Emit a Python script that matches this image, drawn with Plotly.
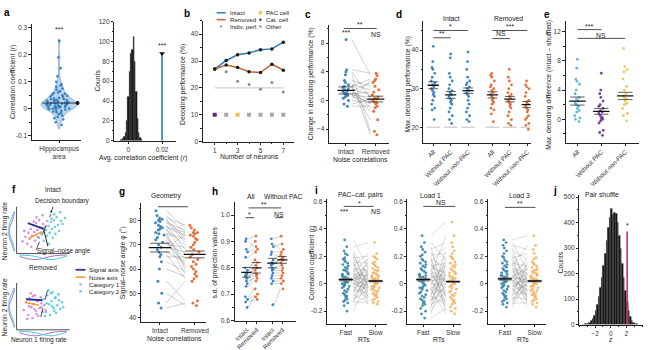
import plotly.graph_objects as go

W, H = 650, 350
FONT = "Liberation Sans, Arial, sans-serif"
INK = "#222222"
BLUE = "#2b7bba"
ORANGE = "#e2632b"
BROWN = "#c0653a"
CYAN = "#4bb3d8"
PURPLE = "#6a2c8c"
YELLOW = "#f1bf48"
TEAL = "#2a7fa5"
PEACH = "#f3b061"
PINK = "#d97fcf"
SKY = "#52c6e6"
NAVY = "#2a3590"
NOISE = "#f0a03c"
RED = "#cf2f6a"
GRAYLINE = "rgba(110,110,110,0.55)"

# ---------------- data ----------------
# a
a_corr = [0.25, 0.19, 0.15, 0.12, 0.10, 0.09, 0.085, 0.08, 0.075, 0.07, 0.065, 0.06, 0.058, 0.055,
          0.052, 0.05, 0.048, 0.045, 0.043, 0.04, 0.038, 0.036, 0.035, 0.033, 0.032, 0.03, 0.029,
          0.028, 0.027, 0.026, 0.025, 0.024, 0.023, 0.022, 0.021, 0.02, 0.019, 0.018, 0.017, 0.016,
          0.015, 0.014, 0.013, 0.012, 0.011, 0.01, 0.009, 0.008, 0.007, 0.006, 0.005, 0.004, 0.003,
          0.002, 0.001, 0.0, -0.002, -0.004, -0.006, -0.008, -0.01, -0.013, -0.016, -0.02, -0.025,
          -0.03, -0.035, -0.04, -0.05, -0.06]
a_corr_mean = 0.021
a_hist_bins = [-0.0040, -0.0032, -0.0024, -0.0016, -0.0008, 0.0, 0.0008, 0.0016, 0.0024, 0.0032,
               0.0040, 0.0048, 0.0056, 0.0064, 0.0072, 0.0080]
a_hist_counts = [1, 2, 4, 8, 20, 45, 70, 88, 92, 105, 80, 50, 22, 8, 3, 1]
a_observed_r = 0.02
a_observed_count = 86

# b
b_neurons = [1, 2, 3, 4, 5, 6, 7]
b_intact = [27, 30.2, 32.3, 33, 34.2, 34.5, 37]
b_removed = [27, 28.5, 27.6, 26, 25.7, 28.8, 26.6]
b_indiv_n = [2, 3, 4, 5, 6, 7]
b_indiv = [26, 22.5, 21.3, 19.5, 22, 18.5]
b_chance = 20
b_cell_level = 10
b_cell_type = ["Cat. cell", "Other", "PAC cell", "Other", "Other", "Other", "Other"]

# c
c_intact = [8.5, 4.3, 4.0, 3.6, 2.8, 2.5, 2.2, 2.0, 1.8, 1.6, 1.5, 1.3, 1.2, 1.0, 0.9, 0.8, 0.7,
            0.5, 0.3, 0.0, -0.5, -0.8]
c_removed = [3.5, 3.8, 0.3, -4.3, 2.0, -4.8, 1.5, 3.0, -2.7, 0.8, -1.0, 2.5, 0.0, -0.5, 1.2, -1.5,
             0.5, -0.2, 2.8, -0.3, 0.2, -0.8]
c_means = [1.4, 0.2]
c_sems = [0.5, 0.4]

# d
d_int_all = [41, 37, 35.5, 35, 34, 33, 32, 31.5, 31, 30.5, 30, 29.5, 29, 28.5, 28, 27, 26, 25, 24.5, 22]
d_int_nopac = [39, 38, 34, 33, 32, 31, 30, 29.5, 29, 28.5, 28, 27.5, 27, 26.5, 26, 25, 24, 23, 22, 21]
d_int_nonpac = [39.5, 37, 35, 33, 32, 31.5, 31, 30.5, 30, 29.5, 29, 28.5, 28, 27, 26, 25, 24, 23, 22, 21.5]
d_rem_all = [34, 33.5, 33, 32, 31, 30.5, 30, 29.5, 29, 28.5, 28, 27.5, 27, 26.5, 26, 25, 24.5, 23.5, 21.5]
d_rem_nopac = [35, 33, 32, 31, 30, 29, 28.5, 28, 27.5, 27, 26.5, 26, 25.5, 25, 24, 23, 22, 21, 20.5]
d_rem_nonpac = [32, 31, 30.5, 30, 29, 28, 27, 26.5, 26, 25.5, 25, 24.5, 24, 23, 22.5, 22, 21, 20.5, 19.5]
d_means = [30.9, 28.4, 29.5, 28.4, 27.3, 25.9]
d_sems = [0.9, 0.9, 0.7, 0.8, 0.7, 0.8]
d_labels = ["All", "Without PAC", "Without non-PAC", "All", "Without PAC", "Without non-PAC"]
d_chance = 20

# e
e_all = [8.2, 7.0, 5.5, 5.2, 4.8, 4.0, 3.5, 3.0, 2.8, 2.5, 2.2, 2.0, 1.8, 1.5, 1.2, 1.0, 0.5, 0.2, 0.0, -0.3]
e_nopac = [6.3, 4.0, 3.5, 3.0, 2.5, 2.0, 1.8, 1.5, 1.2, 1.0, 0.8, 0.5, 0.3, 0.1, 0.0, -0.2, -0.5, -1.5, -1.8, -2.2]
e_nonpac = [9.7, 7.2, 6.8, 6.5, 5.5, 4.5, 4.0, 3.5, 3.2, 3.0, 2.8, 2.5, 2.2, 2.0, 1.5, 0.8, 0.5, -0.2]
e_means = [2.5, 1.1, 3.2]
e_sems = [0.55, 0.4, 0.5]
e_labels = ["All", "Without PAC", "Without non-PAC"]

# f (schematic firing rates, arbitrary units)
f_int_c1_x = [1.0, 1.5, 1.8, 2.0, 2.2, 2.4, 2.6, 2.8, 3.0, 3.1, 3.3, 3.5, 3.6, 3.8, 4.0, 4.2, 4.5, 4.8, 1.3, 2.5, 3.4, 2.9, 4.4, 5.2]
f_int_c1_y = [2.5, 3.4, 2.0, 4.2, 3.0, 5.0, 3.6, 5.8, 4.4, 2.6, 6.2, 4.8, 3.4, 6.8, 5.2, 4.0, 6.0, 5.4, 4.6, 1.4, 7.4, 6.5, 7.8, 6.6]
f_int_c2_x = [3.8, 4.3, 4.6, 5.0, 5.2, 5.4, 5.6, 5.8, 6.0, 6.1, 6.3, 6.5, 6.6, 6.8, 7.0, 7.2, 7.5, 7.8, 4.4, 5.5, 6.4, 5.9, 7.4, 8.2]
f_int_c2_y = [3.2, 4.0, 2.6, 4.8, 3.6, 5.6, 4.2, 6.4, 5.0, 3.2, 6.8, 5.4, 4.0, 7.4, 5.8, 4.6, 6.6, 6.0, 5.2, 2.0, 8.0, 7.1, 8.4, 7.2]
f_rem_c1_x = [1.2, 1.6, 2.0, 2.2, 2.5, 2.7, 2.9, 3.1, 3.3, 3.5, 3.7, 3.9, 4.1, 4.4, 4.7, 1.8, 2.4, 3.0, 3.6, 4.2, 2.1, 3.4, 2.8, 4.9]
f_rem_c1_y = [4.0, 5.6, 3.0, 6.4, 4.6, 2.4, 5.2, 7.0, 3.8, 5.8, 2.8, 4.4, 6.6, 3.6, 5.0, 2.2, 7.4, 4.2, 6.0, 5.4, 4.8, 3.2, 6.8, 4.0]
f_rem_c2_x = [4.2, 4.6, 5.0, 5.2, 5.5, 5.7, 5.9, 6.1, 6.3, 6.5, 6.7, 6.9, 7.1, 7.4, 7.7, 4.8, 5.4, 6.0, 6.6, 7.2, 5.1, 6.4, 5.8, 7.9]
f_rem_c2_y = [4.6, 6.2, 3.6, 7.0, 5.2, 3.0, 5.8, 7.6, 4.4, 6.4, 3.4, 5.0, 7.2, 4.2, 5.6, 2.8, 8.0, 4.8, 6.6, 6.0, 5.4, 3.8, 7.4, 4.6]
f_marg_pos = [0.5, 1.5, 2.5, 3.5, 4.5, 5.5, 6.5, 7.5, 8.5]
f_marg_c1_y = [0.1, 0.35, 0.7, 0.95, 1.0, 0.8, 0.45, 0.2, 0.05]
f_marg_c2_y = [0.05, 0.2, 0.45, 0.75, 0.95, 1.0, 0.8, 0.45, 0.15]
f_marg_c1_x = [0.3, 0.7, 0.95, 1.0, 0.75, 0.4, 0.15, 0.05, 0.02]
f_marg_c2_x = [0.02, 0.05, 0.15, 0.4, 0.75, 1.0, 0.95, 0.6, 0.25]
f_int_signal = ([1.9, 4.6], [6.2, 5.0])
f_int_noise = ([2.1, 4.4], [3.1, 4.5])
f_int_boundary = ([3.3, 5.8], [0.7, 8.0])
f_int_angle = ([4.6, 5.3], [4.9, 1.5])
f_rem_signal = ([1.6, 4.4], [6.2, 6.0])
f_rem_noise = ([1.4, 3.8], [5.6, 5.0])
f_rem_boundary = ([4.1, 5.4], [2.6, 8.8])

# g
g_intact = [84, 82, 81, 80.5, 80, 79.5, 79, 78, 77.5, 77, 76.5, 76, 75, 74.5, 74, 73, 72, 71, 70, 69,
            68, 67, 66, 65, 63, 60, 55, 50, 46, 44]
g_removed = [77, 75, 78, 72, 73.5, 71, 76, 68, 75, 74, 66, 70, 61, 72.5, 60, 64, 58, 62, 69, 67, 74.5,
             63, 56, 65, 59, 57, 47, 45, 55, 46]
g_means = [68.8, 66.0]
g_sems = [1.8, 1.4]

# h
h_int_all = [0.91, 0.90, 0.87, 0.86, 0.84, 0.80, 0.79, 0.78, 0.775, 0.77, 0.765, 0.76, 0.75, 0.74, 0.73, 0.69, 0.68, 0.67, 0.65]
h_rem_all = [0.92, 0.88, 0.90, 0.87, 0.86, 0.82, 0.83, 0.79, 0.81, 0.78, 0.80, 0.775, 0.76, 0.77, 0.75, 0.72, 0.70, 0.68, 0.69]
h_int_nopac = [0.91, 0.89, 0.88, 0.86, 0.85, 0.83, 0.82, 0.815, 0.81, 0.80, 0.795, 0.79, 0.78, 0.77, 0.76, 0.75, 0.74, 0.66]
h_rem_nopac = [0.92, 0.87, 0.89, 0.86, 0.84, 0.85, 0.83, 0.82, 0.835, 0.81, 0.80, 0.79, 0.78, 0.77, 0.76, 0.75, 0.74, 0.72]
h_means = [0.783, 0.800, 0.818, 0.830]
h_sems = [0.018, 0.02, 0.018, 0.013]
h_labels = ["Intact", "Removed", "Intact", "Removed"]

# i
i1_fast = [0.32, 0.27, 0.24, 0.21, 0.19, 0.18, 0.17, 0.16, 0.15, 0.14, 0.13, 0.12, 0.11, 0.10, 0.10, 0.09,
           0.08, 0.07, 0.07, 0.06, 0.05, 0.05, 0.04, 0.04, 0.03, 0.03, 0.02, 0.02, 0.01, 0.01, 0.00, 0.00,
           -0.01, -0.02, -0.02, -0.03, -0.04, -0.05, -0.06, -0.07, -0.08, -0.09, -0.10, -0.11, -0.12,
           -0.13, -0.14, -0.16, -0.20, 0.22]
i1_slow = [0.12, 0.30, 0.05, -0.02, 0.20, 0.08, -0.10, 0.15, 0.02, -0.05, 0.22, 0.00, 0.10, -0.08, 0.04,
           0.18, -0.12, 0.06, 0.01, -0.03, 0.14, -0.15, 0.09, 0.03, -0.06, 0.11, -0.01, 0.07, -0.09, 0.16,
           0.02, -0.04, 0.13, -0.11, 0.05, 0.00, -0.07, 0.08, -0.02, 0.19, -0.13, 0.03, 0.06, -0.05, 0.01,
           -0.14, 0.10, -0.08, 0.04, -0.03]
i2_fast = [0.35, 0.30, 0.27, 0.25, 0.23, 0.21, 0.20, 0.18, 0.17, 0.16, 0.15, 0.13, 0.12, 0.11, 0.10, 0.09,
           0.08, 0.07, 0.06, 0.05, 0.05, 0.04, 0.03, 0.02, 0.02, 0.01, 0.00, -0.01, -0.02, -0.03, -0.04,
           -0.05, -0.06, -0.07, -0.08, -0.09, -0.10, -0.11, -0.12, -0.13, -0.14, -0.15, -0.16, -0.18,
           -0.20, -0.22, -0.25, 0.14, -0.03, 0.06]
i2_slow = [0.45, 0.18, -0.10, 0.30, 0.05, 0.22, -0.20, 0.12, 0.00, 0.27, -0.06, 0.15, 0.08, -0.14, 0.20,
           0.02, -0.09, 0.10, 0.35, -0.03, 0.06, -0.17, 0.13, 0.04, -0.12, 0.09, -0.01, 0.16, -0.07, 0.03,
           -0.22, 0.11, 0.01, -0.04, 0.07, -0.15, 0.24, -0.08, 0.05, -0.02, 0.14, -0.11, 0.00, 0.19, -0.05,
           0.08, -0.18, 0.03, -0.13, 0.02]
i3_fast = [0.32, 0.30, 0.28, 0.26, 0.24, 0.22, 0.20, 0.19, 0.17, 0.16, 0.15, 0.14, 0.13, 0.12, 0.11, 0.10,
           0.09, 0.08, 0.07, 0.06, 0.06, 0.05, 0.04, 0.04, 0.03, 0.02, 0.02, 0.01, 0.00, -0.01, -0.02,
           -0.03, -0.04, -0.05, -0.06, -0.07, -0.08, -0.09, -0.10, -0.11, -0.12, -0.13, -0.14, -0.15,
           -0.17, 0.03, 0.05, 0.01, -0.02, 0.09]
i3_slow = [0.35, 0.10, 0.25, -0.05, 0.18, 0.02, -0.12, 0.22, 0.06, -0.08, 0.13, 0.00, 0.28, -0.15, 0.08,
           0.04, -0.02, 0.16, -0.10, 0.11, 0.01, -0.06, 0.19, 0.03, -0.13, 0.07, -0.04, 0.14, 0.02, -0.09,
           0.05, -0.17, 0.09, -0.01, 0.12, -0.07, 0.00, 0.15, -0.11, 0.03, -0.03, 0.08, -0.14, 0.06, 0.01,
           -0.05, 0.10, -0.08, 0.04, -0.02]
i_means_fast = [0.03, 0.03, 0.035]
i_means_slow = [0.02, 0.015, 0.02]
i_titles = ["PAC–cat. pairs", "Load 1", "Load 3"]
i_rt_labels = ["Fast", "Slow"]

# j
j_bins = [-3.5, -3.3, -3.1, -2.9, -2.7, -2.5, -2.3, -2.1, -1.9, -1.7, -1.5, -1.3, -1.1, -0.9, -0.7, -0.5,
          -0.3, -0.1, 0.1, 0.3, 0.5, 0.7, 0.9, 1.1, 1.3, 1.5, 1.7, 1.9, 2.1, 2.3, 2.5, 2.7, 2.9, 3.1, 3.3, 3.5]
j_counts = [0, 2, 3, 5, 8, 14, 22, 35, 55, 80, 110, 145, 185, 230, 280, 330, 380, 420, 455, 430, 440,
            435, 400, 350, 300, 240, 185, 135, 90, 55, 30, 15, 8, 4, 2, 1]
j_observed_z = 2.1
j_observed_count = 365

# ---------------- helpers ----------------
fig = go.Figure()
layout = {}
annotations = []
shapes = []


def X(px):
    return px / W


def Y(py):
    return 1 - py / H


def xr(n):
    return "x" if n == 1 else f"x{n}"


def yr(n):
    return "y" if n == 1 else f"y{n}"


def axes(n, px0, px1, py0, py1, xrange, yrange, xkw=None, ykw=None):
    base = dict(showline=True, linecolor=INK, linewidth=0.8, ticks="outside", ticklen=2.5,
                tickwidth=0.7, tickcolor=INK, tickfont=dict(size=6.5, color="#333"),
                showgrid=False, zeroline=False, type="linear", fixedrange=True)
    xa = dict(base, domain=[X(px0), X(px1)], range=xrange, anchor=yr(n))
    ya = dict(base, domain=[Y(py1), Y(py0)], range=yrange, anchor=xr(n))
    if xkw:
        xa.update(xkw)
    if ykw:
        ya.update(ykw)
    k = "" if n == 1 else str(n)
    layout["xaxis" + k] = xa
    layout["yaxis" + k] = ya


def txt(px, py, s, size=7, angle=0, xanchor="center", bold=False, color=INK):
    if bold:
        s = f"<b>{s}</b>"
    annotations.append(dict(x=X(px), y=Y(py), xref="paper", yref="paper", text=s, showarrow=False,
                            font=dict(size=size, color=color), xanchor=xanchor, yanchor="middle",
                            textangle=angle))


def dtxt(n, x, y, s, size=7):
    annotations.append(dict(x=x, y=y, xref=xr(n), yref=yr(n), text=s, showarrow=False,
                            font=dict(size=size, color=INK), xanchor="center", yanchor="middle"))


def dline(n, x0, y0, x1, y1, color=INK, width=0.8, dash="solid"):
    shapes.append(dict(type="line", xref=xr(n), yref=yr(n), x0=x0, y0=y0, x1=x1, y1=y1,
                       line=dict(color=color, width=width, dash=dash)))


def pline(px0, py0, px1, py1, color=INK, width=0.8):
    shapes.append(dict(type="line", xref="paper", yref="paper", x0=X(px0), y0=Y(py0), x1=X(px1),
                       y1=Y(py1), line=dict(color=color, width=width)))


def pdot(px, py, color, r=1.5, square=False):
    shapes.append(dict(type="rect" if square else "circle", xref="paper", yref="paper",
                       x0=X(px - r), x1=X(px + r), y0=Y(py + r), y1=Y(py - r),
                       fillcolor=color, line=dict(width=0)))


def strip(n, pos, vals, color, width=0.3, jitter=0.9, size=3, opacity=0.9):
    fig.add_trace(go.Box(x=[pos] * len(vals), y=vals, xaxis=xr(n), yaxis=yr(n), boxpoints="all",
                         jitter=jitter, pointpos=0, width=width,
                         marker=dict(color=color, size=size, opacity=opacity, line=dict(width=0)),
                         fillcolor="rgba(0,0,0,0)", line=dict(color="rgba(0,0,0,0)", width=0),
                         whiskerwidth=0, showlegend=False, hoverinfo="skip"))


def pairs(n, x0, x1, a, b, color=GRAYLINE, width=0.6):
    xs, ys = [], []
    for u, v in zip(a, b):
        xs += [x0, x1, None]
        ys += [u, v, None]
    fig.add_trace(go.Scatter(x=xs, y=ys, xaxis=xr(n), yaxis=yr(n), mode="lines",
                             line=dict(color=color, width=width), showlegend=False, hoverinfo="skip"))


def mean_sem(n, pos, m, s, half=0.22, color="#333"):
    fig.add_trace(go.Scatter(x=[pos - half, pos + half, None, pos - half, pos + half],
                             y=[m + s, m + s, None, m - s, m - s], xaxis=xr(n), yaxis=yr(n),
                             mode="lines", line=dict(color=color, width=0.8), showlegend=False,
                             hoverinfo="skip"))
    fig.add_trace(go.Scatter(x=[pos - half * 1.15, pos + half * 1.15], y=[m, m], xaxis=xr(n),
                             yaxis=yr(n), mode="lines", line=dict(color="#111", width=1.3),
                             showlegend=False, hoverinfo="skip"))


def ytitle(px, py, s):
    txt(px, py, s, size=6.8, angle=-90)


# ---------------- panel a ----------------
axes(1, 31, 80, 20, 139, [-0.56, 0.44], [-0.115, 0.315],
     xkw=dict(tickvals=[0], ticktext=["Hippocampus<br>area"], ticklen=2.5),
     ykw=dict(tickvals=[-0.1, 0, 0.1, 0.2, 0.3], ticktext=["-0.1", "0", "0.1", "0.2", "0.3"],
              minor=dict(ticks="outside", ticklen=1.5, dtick=0.05, tickcolor=INK)))
fig.add_trace(go.Violin(x0=0, y=a_corr, xaxis="x", yaxis="y", width=0.74, points="all", jitter=0.75,
                        pointpos=0, marker=dict(size=2.6, color=BLUE, opacity=0.9),
                        fillcolor="rgba(160,198,232,0.75)", line=dict(color="#8aa7c6", width=0.8),
                        spanmode="manual", span=[-0.075, 0.258], bandwidth=0.012,
                        showlegend=False, hoverinfo="skip"))
fig.add_trace(go.Scatter(x=[-0.34, 0.37], y=[a_corr_mean, a_corr_mean], xaxis="x", yaxis="y",
                         mode="lines", line=dict(color="#333", width=1.0), showlegend=False,
                         hoverinfo="skip"))
fig.add_trace(go.Scatter(x=[0.38], y=[a_corr_mean], xaxis="x", yaxis="y", mode="markers",
                         marker=dict(color="#111", size=4), showlegend=False, hoverinfo="skip"))
dtxt(1, 0, 0.293, "***")
ytitle(12, 80, "Correlation coefficient (<i>r</i>)")

axes(2, 114, 176, 18, 140, [-0.00824, 0.0282], [0, 120],
     xkw=dict(tickvals=[0, 0.02], ticktext=["0", "0.02"]),
     ykw=dict(tickvals=[0, 20, 40, 60, 80, 100, 120],
              minor=dict(ticks="outside", ticklen=1.5, dtick=10, tickcolor=INK)))
fig.add_trace(go.Bar(x=a_hist_bins, y=a_hist_counts, width=0.0008, xaxis="x2", yaxis="y2",
                     marker=dict(color="#111", line=dict(color="#444", width=0.3)),
                     showlegend=False, hoverinfo="skip"))
fig.add_trace(go.Scatter(x=[a_observed_r, a_observed_r], y=[0, a_observed_count], xaxis="x2",
                         yaxis="y2", mode="lines", line=dict(color=BLUE, width=1.6),
                         showlegend=False, hoverinfo="skip"))
fig.add_trace(go.Scatter(x=[a_observed_r], y=[a_observed_count + 2], xaxis="x2", yaxis="y2",
                         mode="markers", marker=dict(symbol="triangle-down", color="#111", size=5),
                         showlegend=False, hoverinfo="skip"))
dtxt(2, a_observed_r, 96, "***")
ytitle(97, 78, "Counts")
txt(143, 157.5, "Avg. correlation coefficient (<i>r</i>)", size=6.8)

# ---------------- panel b ----------------
axes(3, 203, 295, 17, 141, [-0.05, 7.95], [0, 45],
     xkw=dict(tickvals=[1, 3, 5, 7], minor=dict(ticks="outside", ticklen=1.5, tickvals=[2, 4, 6], tickcolor=INK)),
     ykw=dict(tickvals=[0, 10, 20, 30, 40], minor=dict(ticks="outside", ticklen=1.5, dtick=5, tickcolor=INK)))
fig.add_trace(go.Scatter(x=[b_neurons[0], b_neurons[-1]], y=[b_chance, b_chance], xaxis="x3", yaxis="y3",
                         mode="lines", line=dict(color="#c4c4c4", width=1.0), showlegend=False, hoverinfo="skip"))
fig.add_trace(go.Scatter(x=b_neurons, y=b_intact, xaxis="x3", yaxis="y3", mode="lines+markers",
                         line=dict(color=BLUE, width=1.5), marker=dict(color="#1a1a1a", size=3.5),
                         showlegend=False, hoverinfo="skip"))
fig.add_trace(go.Scatter(x=b_neurons, y=b_removed, xaxis="x3", yaxis="y3", mode="lines+markers",
                         line=dict(color=BROWN, width=1.5), marker=dict(color="#1a1a1a", size=3.5),
                         showlegend=False, hoverinfo="skip"))
fig.add_trace(go.Scatter(x=b_indiv_n, y=b_indiv, xaxis="x3", yaxis="y3", mode="markers",
                         marker=dict(color="#8a8a8a", size=3, symbol="circle"), showlegend=False,
                         hoverinfo="skip"))
cell_colors = {"Cat. cell": "#5a2a78", "PAC cell": YELLOW, "Other": "#a8a8a8"}
fig.add_trace(go.Scatter(x=b_neurons, y=[b_cell_level] * len(b_neurons), xaxis="x3", yaxis="y3",
                         mode="markers", marker=dict(color=[cell_colors[t] for t in b_cell_type],
                                                     size=4, symbol="square"),
                         showlegend=False, hoverinfo="skip"))
pline(217, 9, 226, 9, BLUE, 1.5)
txt(228, 9, "Intact", 6.1, xanchor="left")
pline(217, 16, 226, 16, BROWN, 1.5)
txt(228, 16, "Removed", 6.1, xanchor="left")
pdot(221.5, 23, "#8a8a8a", 1.1)
txt(228, 23, "Indiv. perf.", 6.1, xanchor="left")
pdot(261, 9, YELLOW, 1.6, square=True)
txt(265, 9, "PAC cell", 6.1, xanchor="left")
pdot(261, 16, "#3a2040", 1.2)
txt(265, 16, "Cat. cell", 6.1, xanchor="left")
pdot(261, 23, "#a8a8a8", 1.3, square=True)
txt(265, 23, "Other", 6.1, xanchor="left")
ytitle(183, 82, "Decoding performance (%)")
txt(250, 156, "Number of neurons", 6.8)

# ---------------- panel c ----------------
axes(4, 330, 390, 21, 142, [-0.57, 1.43], [-5.9, 10.6],
     xkw=dict(tickvals=[0, 1], ticktext=["Intact", "Removed"]),
     ykw=dict(tickvals=[-4, 0, 4, 8], minor=dict(ticks="outside", ticklen=1.5, dtick=2, tickcolor=INK)))
pairs(4, 0.2, 0.82, c_intact, c_removed)
strip(4, 0, c_intact, BLUE, width=0.3)
strip(4, 1, c_removed, ORANGE, width=0.3)
for k in range(2):
    mean_sem(4, k, c_means[k], c_sems[k], half=0.25)
dline(4, -0.07, 10.05, 1.03, 10.05)
dtxt(4, 0.48, 10.55, "**")
dtxt(4, 0.0, 9.5, "***")
dtxt(4, 1.0, 9.2, "NS", 6.8)
ytitle(312, 82, "Change in decoding performance (%)")
txt(362, 159, "Noise correlations", 6.8)

# ---------------- panel d ----------------
d_pos = [0, 1, 2, 3.4, 4.4, 5.4]
d_groups = [d_int_all, d_int_nopac, d_int_nonpac, d_rem_all, d_rem_nopac, d_rem_nonpac]
axes(5, 425, 533, 17.6, 142, [-0.57, 5.6], [16, 47.5],
     xkw=dict(tickvals=d_pos, ticktext=d_labels, tickangle=-45, tickfont=dict(size=6.3, color="#333")),
     ykw=dict(tickvals=[20, 30, 40], minor=dict(ticks="outside", ticklen=1.5, dtick=5, tickcolor=INK)))
for k in range(6):
    dline(5, d_pos[k] - 0.4, d_chance, d_pos[k] + 0.4, d_chance, color="#d4d4d4", width=1.4)
for k in range(6):
    strip(5, d_pos[k], d_groups[k], BLUE if k < 3 else ORANGE, width=0.3, size=2.8)
    mean_sem(5, d_pos[k], d_means[k], d_sems[k], half=0.28)
dline(5, 0, 45.1, 2, 45.1)
dtxt(5, 0.97, 46.1, "*")
dline(5, 0, 43.2, 1, 43.2)
dtxt(5, 0.5, 44.2, "**")
dline(5, 3.4, 45.1, 5.4, 45.1)
dtxt(5, 4.4, 46.1, "***")
dline(5, 3.4, 43.0, 4.4, 43.0)
dtxt(5, 3.9, 44.3, "NS", 6.8)
txt(453, 15, "Intact", 6.8)
txt(511, 15, "Removed", 6.8)
ytitle(410, 82, "Max. decoding performance (%)")

# ---------------- panel e ----------------
e_groups = [e_all, e_nopac, e_nonpac]
e_colors = [CYAN, PURPLE, YELLOW]
axes(6, 568, 642, 17, 142, [-0.5, 2.58], [-3.2, 13.5],
     xkw=dict(tickvals=[0, 1, 2], ticktext=e_labels, tickangle=-45, tickfont=dict(size=6.3, color="#333")),
     ykw=dict(tickvals=[0, 4, 8, 12], minor=dict(ticks="outside", ticklen=1.5, dtick=2, tickcolor=INK)))
for k in range(3):
    strip(6, k, e_groups[k], e_colors[k], width=0.3, size=2.8)
    mean_sem(6, k, e_means[k], e_sems[k], half=0.3)
dline(6, 0, 12.27, 1, 12.27)
dtxt(6, 0.5, 12.7, "***")
dline(6, 0, 11.07, 2, 11.07)
dtxt(6, 1.0, 11.5, "NS", 6.8)
ytitle(551, 83, "Max. decoding difference (intact – shuffled)")

# ---------------- panel f ----------------
for n, py0, py1, c1x, c1y, c2x, c2y, sig, noi, bnd in [
        (7, 205, 263, f_int_c1_x, f_int_c1_y, f_int_c2_x, f_int_c2_y, f_int_signal, f_int_noise, f_int_boundary),
        (8, 283, 341, f_rem_c1_x, f_rem_c1_y, f_rem_c2_x, f_rem_c2_y, f_rem_signal, f_rem_noise, f_rem_boundary)]:
    axes(n, 5, 75, py0, py1, [-1.8, 10], [-1.5, 10],
         xkw=dict(visible=False), ykw=dict(visible=False))
    dline(n, 0, 0, 0, 9.5, INK, 0.8)
    dline(n, 0, 0, 9.0, 0, INK, 0.8)
    for pts_x, pts_y, col in [(c1x, c1y, PINK), (c2x, c2y, SKY)]:
        fig.add_trace(go.Scatter(x=pts_x, y=pts_y, xaxis=xr(n), yaxis=yr(n), mode="markers",
                                 marker=dict(color=col, size=2.6, opacity=0.85), showlegend=False,
                                 hoverinfo="skip"))
    for marg, col in [(f_marg_c1_y, "#a277cf"), (f_marg_c2_y, SKY)]:
        fig.add_trace(go.Scatter(x=[-0.3 - 1.0 * h for h in marg], y=f_marg_pos, xaxis=xr(n),
                                 yaxis=yr(n), mode="lines", line=dict(color=col, width=1.0, shape="spline"),
                                 showlegend=False, hoverinfo="skip"))
    for marg, col in [(f_marg_c1_x, "#a277cf"), (f_marg_c2_x, SKY)]:
        fig.add_trace(go.Scatter(x=f_marg_pos, y=[-0.3 - 0.9 * h for h in marg], xaxis=xr(n),
                                 yaxis=yr(n), mode="lines", line=dict(color=col, width=1.0, shape="spline"),
                                 showlegend=False, hoverinfo="skip"))
    fig.add_trace(go.Scatter(x=bnd[0], y=bnd[1], xaxis=xr(n), yaxis=yr(n), mode="lines",
                             line=dict(color="#222", width=0.8, dash="dash"), showlegend=False, hoverinfo="skip"))
    fig.add_trace(go.Scatter(x=sig[0], y=sig[1], xaxis=xr(n), yaxis=yr(n), mode="lines",
                             line=dict(color=NAVY, width=1.8), showlegend=False, hoverinfo="skip"))
    fig.add_trace(go.Scatter(x=noi[0], y=noi[1], xaxis=xr(n), yaxis=yr(n), mode="lines",
                             line=dict(color=NOISE, width=1.6), showlegend=False, hoverinfo="skip"))
fig.add_trace(go.Scatter(x=f_int_angle[0], y=f_int_angle[1], xaxis="x7", yaxis="y7", mode="lines",
                         line=dict(color="#222", width=1.0), showlegend=False, hoverinfo="skip"))
annotations.append(dict(x=X(50), y=Y(214), xref="paper", yref="paper", ax=3, ay=-8, text="",
                        showarrow=True, arrowhead=2, arrowsize=0.6, arrowwidth=0.8, arrowcolor=INK))
txt(52, 190, "Intact", 6.5)
txt(62, 202, "Decision boundary", 6.5)
txt(63, 253, "Signal–noise angle", 6.3)
txt(42, 270, "Removed", 6.5)
pline(75, 272, 85, 272, NAVY, 1.8)
txt(86.5, 272, "Signal axis", 6.2, xanchor="left")
pline(75, 279.5, 85, 279.5, NOISE, 1.6)
txt(86.5, 279.5, "Noise axis", 6.2, xanchor="left")
pdot(80, 287, PINK, 1.2)
txt(86.5, 287, "Category 1", 6.2, xanchor="left")
pdot(80, 294, SKY, 1.2)
txt(86.5, 294, "Category 2", 6.2, xanchor="left")
ytitle(3.5, 232, "Neuron 2 firing rate")
ytitle(3.5, 310, "Neuron 2 firing rate")
txt(38, 344, "Neuron 1 firing rate", 6.5)

# ---------------- panel g ----------------
axes(9, 141, 206, 204, 325, [-0.54, 1.31], [38.4, 87],
     xkw=dict(tickvals=[0, 1], ticktext=["Intact", "Removed"]),
     ykw=dict(tickvals=[40, 50, 60, 70, 80], minor=dict(ticks="outside", ticklen=1.5, dtick=5, tickcolor=INK)))
pairs(9, 0.18, 0.72, g_intact, g_removed)
strip(9, 0, g_intact, BLUE, width=0.34)
strip(9, 1, g_removed, ORANGE, width=0.36)
for k in range(2):
    mean_sem(9, k, g_means[k], g_sems[k], half=0.28)
dline(9, -0.06, 85.6, 0.8, 85.6)
dtxt(9, 0.37, 87.2, "*")
txt(166, 197, "Geometry", 6.8)
ytitle(123, 265, "Signal–noise angle φ (°)")
txt(175, 342, "Noise correlations", 6.8)

# ---------------- panel h ----------------
h_pos = [0, 1, 2.6, 3.6]
h_groups = [h_int_all, h_rem_all, h_int_nopac, h_rem_nopac]
axes(10, 235, 297, 203, 324, [-1.2, 5.0], [0.6, 1.048],
     xkw=dict(tickvals=h_pos, ticktext=h_labels, tickangle=-45, tickfont=dict(size=6.3, color="#333")),
     ykw=dict(tickvals=[0.6, 0.7, 0.8, 0.9, 1.0], ticktext=["0.6", "0.7", "0.8", "0.9", "1.0"],
              minor=dict(ticks="outside", ticklen=1.5, dtick=0.05, tickcolor=INK)))
pairs(10, 0.2, 0.8, h_int_all, h_rem_all)
pairs(10, 2.8, 3.4, h_int_nopac, h_rem_nopac)
for k in range(4):
    strip(10, h_pos[k], h_groups[k], BLUE if k % 2 == 0 else ORANGE, width=0.35, size=2.8)
    mean_sem(10, h_pos[k], h_means[k], h_sems[k], half=0.45)
dline(10, 0.2, 1.027, 3.5, 1.027)
dtxt(10, 1.8, 1.04, "**")
dline(10, -0.1, 0.99, 0.8, 0.99)
dtxt(10, 0.35, 1.002, "*")
dline(10, 2.9, 0.99, 3.7, 0.99)
dtxt(10, 3.3, 1.003, "NS", 6.8)
txt(252, 197, "All", 6.8)
txt(284, 197, "Without PAC", 6.8)
ytitle(215, 265, "s.d. of projection values")

# ---------------- panel i ----------------
i_data = [(i1_fast, i1_slow), (i2_fast, i2_slow), (i3_fast, i3_slow)]
i_boxes = [(11, 328, 388, [-0.63, 1.37]), (12, 409, 463, [-0.53, 1.27]), (13, 490, 548, [-0.57, 1.37])]
for k, (n, px0, px1, xrng) in enumerate(i_boxes):
    axes(n, px0, px1, 200, 327, xrng, [-0.29, 0.615],
         xkw=dict(tickvals=[0, 1], ticktext=i_rt_labels),
         ykw=dict(tickvals=[-0.2, 0, 0.2, 0.4, 0.6], ticktext=["-0.2", "0", "0.2", "0.4", "0.6"],
                  minor=dict(ticks="outside", ticklen=1.5, dtick=0.1, tickcolor=INK)))
    fast, slow = i_data[k]
    pairs(n, 0.25, 0.75, fast, slow, color="rgba(120,120,120,0.5)", width=0.5)
    strip(n, 0, fast, TEAL, width=0.34, size=2.8, opacity=0.85)
    strip(n, 1, slow, PEACH, width=0.34, size=2.8, opacity=0.85)
    shapes.append(dict(type="rect", xref=xr(n), yref=yr(n), x0=-0.22, x1=0.22,
                       y0=i_means_fast[k] - 0.013, y1=i_means_fast[k] + 0.013,
                       fillcolor="rgba(120,120,120,0.75)", line=dict(width=0)))
    dline(n, -0.24, i_means_fast[k], 0.24, i_means_fast[k], "#111", 1.3)
    shapes.append(dict(type="rect", xref=xr(n), yref=yr(n), x0=0.78, x1=1.22,
                       y0=i_means_slow[k] - 0.01, y1=i_means_slow[k] + 0.01,
                       fillcolor="rgba(120,120,120,0.6)", line=dict(width=0)))
    dline(n, 0.76, i_means_slow[k], 1.24, i_means_slow[k], "#111", 1.3)
txt(362, 195, i_titles[0], 6.8)
txt(432, 196, i_titles[1], 6.8)
txt(522, 196, i_titles[2], 6.8)
dline(11, -0.07, 0.564, 0.93, 0.564)
dtxt(11, 0.45, 0.588, "*")
dtxt(11, -0.07, 0.53, "***")
dtxt(11, 1.0, 0.53, "NS", 6.8)
dline(12, 0.0, 0.564, 1.07, 0.564)
dtxt(12, 0.6, 0.595, "NS", 6.8)
dline(13, 0.0, 0.557, 1.03, 0.557)
dtxt(13, 0.5, 0.583, "**")
ytitle(313, 265, "Correlation coefficient (<i>r</i>)")
txt(365, 343, "RTs", 6.8)
txt(441, 343, "RTs", 6.8)
txt(525, 343, "RTs", 6.8)

# ---------------- panel j ----------------
axes(14, 582, 645, 195, 328, [-4, 4], [0, 510],
     xkw=dict(tickvals=[-2, 0, 2], minor=dict(ticks="outside", ticklen=1.5, dtick=1, tickcolor=INK)),
     ykw=dict(tickvals=[0, 100, 200, 300, 400, 500], minor=dict(ticks="outside", ticklen=1.5, dtick=50, tickcolor=INK)))
fig.add_trace(go.Bar(x=j_bins, y=j_counts, width=0.2, xaxis="x14", yaxis="y14",
                     marker=dict(color="#111", line=dict(color="#555", width=0.3)),
                     showlegend=False, hoverinfo="skip"))
fig.add_trace(go.Scatter(x=[j_observed_z, j_observed_z], y=[0, j_observed_count], xaxis="x14", yaxis="y14",
                         mode="lines", line=dict(color=RED, width=1.6), showlegend=False, hoverinfo="skip"))
dtxt(14, j_observed_z, 390, "*")
txt(605, 195, "Pair shuffle", 6.8)
ytitle(563, 265, "Counts")
txt(613, 343, "<i>z</i>", 6.8)

# ---------------- panel letters ----------------
for lbl, px, py in [("a", 6, 9), ("b", 187, 10), ("c", 309, 11), ("d", 400, 11), ("e", 549, 11),
                    ("f", 13, 190), ("g", 122, 192), ("h", 215, 192), ("i", 317, 191), ("j", 557, 191)]:
    txt(px, py, lbl, 10, bold=True, color="#000")

fig.update_layout(width=W, height=H, margin=dict(l=0, r=0, t=0, b=0), paper_bgcolor="white",
                  plot_bgcolor="rgba(0,0,0,0)", font=dict(family=FONT, size=7, color=INK),
                  showlegend=False, boxmode="overlay", bargap=0, annotations=annotations,
                  shapes=shapes, **layout)
fig.write_html("out.html")
